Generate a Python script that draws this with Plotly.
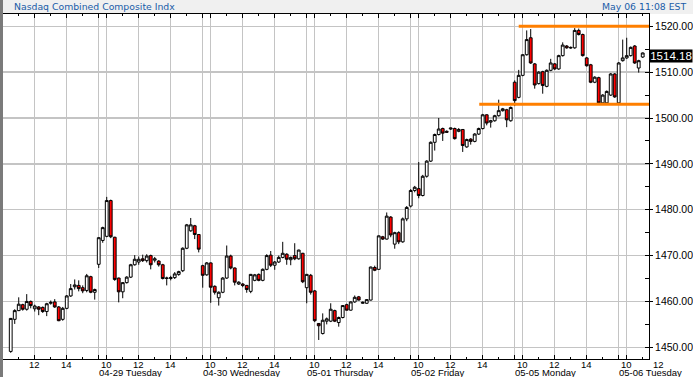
import plotly.graph_objects as go

# ---------------- data (15-minute bars, open/high/low/close) ----------------
day_labels = ["04-28 Monday", "04-29 Tuesday", "04-30 Wednesday", "05-01 Thursday",
              "05-02 Friday", "05-05 Monday", "05-06 Tuesday"]
first_bar = ["10:30", "09:30", "09:30", "09:30", "09:30", "09:30", "09:30"]

bars_0428 = [
    (1449.1, 1456.4, 1448.8, 1456.3), (1456.1, 1458.3, 1455.1, 1458.0), (1458.0, 1460.9, 1457.9, 1459.4),
    (1459.3, 1459.5, 1458.0, 1458.3), (1458.3, 1461.6, 1458.0, 1460.0), (1460.0, 1460.2, 1458.5, 1459.1),
    (1458.4, 1459.3, 1457.8, 1459.0), (1458.8, 1459.0, 1457.0, 1458.3), (1458.7, 1458.9, 1457.5, 1457.8),
    (1457.8, 1459.7, 1456.8, 1459.5), (1459.6, 1460.2, 1459.3, 1459.8), (1459.9, 1460.5, 1458.6, 1458.8),
    (1458.8, 1459.0, 1455.7, 1455.8), (1456.1, 1458.8, 1455.8, 1458.5), (1458.5, 1461.4, 1458.3, 1461.2),
    (1461.2, 1463.8, 1461.0, 1462.8), (1463.2, 1464.8, 1462.6, 1463.6), (1463.5, 1464.6, 1462.2, 1462.8),
    (1463.0, 1463.5, 1461.8, 1462.3), (1462.4, 1466.0, 1462.0, 1465.6), (1465.4, 1465.6, 1461.8, 1462.0),
    (1462.0, 1462.8, 1460.4, 1462.6),
]
bars_0429 = [
    (1468.1, 1474.0, 1467.3, 1473.9), (1473.3, 1476.3, 1472.8, 1476.1), (1474.2, 1482.8, 1474.0, 1482.0),
    (1482.0, 1482.2, 1473.8, 1474.1), (1474.0, 1474.1, 1464.5, 1464.8), (1465.1, 1465.2, 1459.8, 1462.1),
    (1462.1, 1464.2, 1460.7, 1464.1), (1464.1, 1465.5, 1463.9, 1465.3), (1465.3, 1468.2, 1465.1, 1468.0),
    (1468.0, 1470.1, 1467.8, 1469.2), (1468.6, 1469.8, 1468.0, 1469.2), (1469.3, 1470.2, 1468.6, 1468.9),
    (1468.9, 1470.3, 1468.5, 1469.9), (1470.0, 1470.2, 1467.0, 1468.0), (1469.0, 1469.7, 1468.5, 1469.3),
    (1468.8, 1469.0, 1467.6, 1468.0), (1468.0, 1468.2, 1464.8, 1465.0), (1465.0, 1465.4, 1463.5, 1465.1),
    (1465.0, 1465.6, 1464.6, 1465.2), (1465.2, 1466.4, 1464.9, 1466.0), (1465.9, 1466.7, 1465.6, 1466.5),
    (1466.7, 1471.8, 1466.4, 1471.6), (1471.6, 1476.9, 1471.4, 1476.7), (1475.4, 1478.2, 1475.2, 1476.7),
    (1476.5, 1476.7, 1473.6, 1474.6), (1474.6, 1474.7, 1470.7, 1471.4),
]
bars_0430 = [
    (1467.8, 1468.0, 1463.0, 1465.7), (1465.8, 1468.6, 1465.6, 1468.4), (1468.4, 1468.5, 1459.7, 1463.1),
    (1463.3, 1463.5, 1461.5, 1462.0), (1460.8, 1462.2, 1459.1, 1462.0), (1462.0, 1465.3, 1461.8, 1465.1),
    (1465.1, 1472.2, 1464.9, 1469.9), (1469.9, 1470.2, 1467.0, 1467.3), (1467.3, 1467.4, 1463.5, 1464.2),
    (1463.8, 1464.4, 1463.6, 1464.2), (1463.8, 1464.0, 1463.1, 1463.5), (1463.5, 1463.6, 1461.9, 1462.6),
    (1462.2, 1466.0, 1461.8, 1465.9), (1464.6, 1466.0, 1464.4, 1465.8), (1465.9, 1466.1, 1464.4, 1464.6),
    (1464.6, 1467.2, 1464.4, 1467.0), (1467.0, 1470.3, 1466.8, 1470.0), (1470.1, 1471.0, 1467.5, 1467.9),
    (1467.9, 1468.8, 1466.9, 1468.6), (1468.6, 1470.0, 1468.4, 1469.6), (1469.6, 1473.0, 1469.4, 1470.5),
    (1470.3, 1470.5, 1468.0, 1469.2), (1469.1, 1469.8, 1467.9, 1469.6), (1470.0, 1472.7, 1469.0, 1469.3),
    (1469.3, 1471.3, 1469.1, 1471.2), (1470.5, 1470.6, 1464.0, 1464.3),
]
bars_0501 = [
    (1463.0, 1466.0, 1459.6, 1465.9), (1465.7, 1466.0, 1461.5, 1462.0), (1462.3, 1462.5, 1455.5, 1455.8),
    (1455.2, 1455.3, 1451.6, 1454.7), (1453.0, 1457.4, 1452.8, 1455.9), (1455.7, 1456.5, 1455.0, 1456.2),
    (1455.7, 1459.6, 1455.5, 1458.3), (1458.0, 1458.2, 1455.5, 1455.7), (1455.4, 1456.7, 1454.5, 1456.5),
    (1456.5, 1459.2, 1456.3, 1459.1), (1459.3, 1459.5, 1458.0, 1458.1), (1458.1, 1460.0, 1458.0, 1459.9),
    (1459.9, 1461.3, 1459.7, 1460.9), (1461.0, 1461.2, 1460.2, 1460.3), (1459.6, 1460.0, 1459.5, 1459.8),
    (1459.6, 1460.5, 1459.5, 1460.4), (1460.3, 1467.6, 1460.2, 1467.5), (1467.4, 1467.8, 1466.6, 1466.8),
    (1467.0, 1474.4, 1466.9, 1474.3), (1474.1, 1474.3, 1473.4, 1473.6), (1473.6, 1479.4, 1473.5, 1478.6),
    (1478.4, 1478.6, 1474.0, 1474.5), (1472.5, 1475.2, 1471.5, 1475.0), (1475.0, 1475.3, 1472.5, 1473.0),
    (1473.0, 1478.3, 1472.8, 1478.0), (1478.0, 1480.8, 1477.5, 1480.5),
]
bars_0502 = [
    (1480.8, 1484.5, 1480.5, 1484.2), (1484.2, 1485.2, 1483.8, 1484.9), (1484.6, 1490.4, 1482.5, 1483.1),
    (1483.1, 1487.6, 1482.9, 1487.3), (1487.3, 1490.8, 1487.0, 1490.6), (1490.6, 1494.9, 1490.4, 1494.7),
    (1494.7, 1496.6, 1492.9, 1496.4), (1496.4, 1500.0, 1496.2, 1497.6), (1497.7, 1497.9, 1495.0, 1496.7),
    (1497.1, 1497.3, 1496.8, 1496.9), (1497.6, 1497.9, 1497.4, 1497.8), (1497.7, 1497.9, 1495.3, 1495.5),
    (1497.1, 1497.8, 1496.9, 1497.5), (1497.5, 1497.6, 1492.6, 1494.0), (1493.7, 1495.5, 1493.5, 1495.3),
    (1495.4, 1495.6, 1494.2, 1494.9), (1494.9, 1496.7, 1494.7, 1496.5), (1496.5, 1497.9, 1496.3, 1497.7),
    (1497.7, 1500.9, 1497.5, 1500.7), (1500.7, 1500.8, 1498.4, 1498.9), (1499.1, 1499.6, 1497.9, 1499.4),
    (1499.4, 1500.7, 1499.2, 1500.5), (1500.5, 1504.0, 1500.3, 1501.6), (1501.6, 1502.2, 1501.4, 1502.0),
    (1501.8, 1502.0, 1498.0, 1499.6), (1499.4, 1502.5, 1499.2, 1502.3),
]
bars_0505 = [
    (1507.8, 1508.2, 1502.6, 1503.8), (1504.5, 1510.5, 1504.3, 1509.3), (1509.3, 1513.9, 1509.1, 1513.8),
    (1513.8, 1519.1, 1513.6, 1517.1), (1517.5, 1519.4, 1511.8, 1512.0), (1511.8, 1512.0, 1506.4, 1507.2),
    (1507.5, 1510.2, 1507.3, 1510.0), (1510.1, 1510.3, 1505.3, 1507.1), (1506.9, 1510.6, 1506.7, 1510.4),
    (1510.4, 1512.9, 1510.2, 1512.0), (1511.8, 1512.0, 1510.5, 1510.7), (1510.7, 1513.8, 1510.5, 1513.6),
    (1513.6, 1516.5, 1513.4, 1515.9), (1515.7, 1515.9, 1515.1, 1515.3), (1515.4, 1515.6, 1515.1, 1515.3),
    (1515.3, 1519.6, 1515.1, 1519.1), (1519.1, 1519.5, 1518.0, 1518.2), (1518.2, 1518.4, 1513.4, 1513.6),
    (1513.1, 1513.3, 1511.2, 1511.4), (1511.6, 1511.8, 1507.6, 1507.8), (1507.8, 1509.1, 1507.6, 1508.9),
    (1508.8, 1509.0, 1503.1, 1503.3), (1503.3, 1505.2, 1503.1, 1505.0), (1503.3, 1506.0, 1503.1, 1505.8),
    (1505.0, 1509.8, 1504.8, 1509.6), (1509.6, 1509.8, 1504.4, 1504.6),
]
bars_0506 = [
    (1503.3, 1512.2, 1503.1, 1512.0), (1512.5, 1517.1, 1512.3, 1513.1), (1513.1, 1517.5, 1512.9, 1513.6),
    (1513.6, 1515.6, 1513.4, 1515.4), (1515.7, 1515.9, 1511.8, 1512.0), (1510.9, 1512.7, 1509.9, 1512.5),
    (1513.3, 1514.3, 1513.1, 1514.18),
]
all_days = [bars_0428, bars_0429, bars_0430, bars_0501, bars_0502, bars_0505, bars_0506]

last_price = 1514.18
support_level, support_from = 1503.0, (4, "13:47")
resist_level, resist_from = 1520.0, (5, "09:45")
y_ticks = [1450, 1460, 1470, 1480, 1490, 1500, 1510, 1520]
hour_labels = ["10", "12", "14"]

# ---------------- session-time scale (trading minutes since first open) ----------------
SESSION = 390  # 09:30 - 16:00


def tpos(day, hhmm):
    h, m = map(int, hhmm.split(":"))
    return day * SESSION + (h * 60 + m) - (9 * 60 + 30)


xs, o, h, l, c = [], [], [], [], []
for d, bars in enumerate(all_days):
    start = tpos(d, first_bar[d])
    for i, (bo, bh, bl, bc) in enumerate(bars):
        xs.append(start + 15 * i)
        o.append(bo); h.append(bh); l.append(bl); c.append(bc)

X0, X1 = 31.0, 2453.6
Y0, Y1 = 1447.45, 1522.68
W, H = 693, 377
ML, MR, MT, MB = 3, 44, 14, 18
PW, PH = W - ML - MR, H - MT - MB


def xfrac(p):
    return (p - X0) / (X1 - X0)


grid_x, minor_x = [], []
for d in range(len(all_days)):
    for hh in ["09:30", "10:00", "12:00", "14:00"]:
        grid_x.append(tpos(d, hh))
    for hh in ["11:00", "13:00", "15:00"]:
        minor_x.append(tpos(d, hh))
grid_x = [g for g in grid_x if X0 <= g <= X1]
minor_x = [g for g in minor_x if X0 <= g <= X1]

fig = go.Figure(go.Candlestick(
    x=xs, open=o, high=h, low=l, close=c,
    increasing=dict(fillcolor="#ffffff", line=dict(color="#000000", width=1)),
    decreasing=dict(fillcolor="#ff0000", line=dict(color="#000000", width=1)),
    whiskerwidth=0, showlegend=False, hoverinfo="skip",
))

GRID = "#c4c4c4"
fig.update_layout(
    width=W, height=H, margin=dict(l=ML, r=MR, t=MT, b=MB, pad=0),
    paper_bgcolor="#ffffff", plot_bgcolor="#ffffff",
    boxgap=0.0, showlegend=False, hovermode=False,
    xaxis=dict(range=[X0, X1], rangeslider=dict(visible=False), tickmode="array",
               tickvals=grid_x, showticklabels=False, ticks="inside", ticklen=4,
               tickcolor="#000000", showline=True, linecolor="#000000", linewidth=1,
               mirror="ticks", showgrid=True, gridcolor=GRID, gridwidth=1.5, zeroline=False,
               minor=dict(tickvals=minor_x, ticks="inside", ticklen=2, tickcolor="#000000",
                          showgrid=False)),
    yaxis=dict(range=[Y0, Y1], side="right", tickmode="array", tickvals=y_ticks,
               ticktext=[f"{v:.2f}" for v in y_ticks], ticks="outside", ticklen=3,
               tickcolor="#000000", showline=True, linecolor="#000000", linewidth=1,
               mirror=True, showgrid=True, gridcolor=GRID, gridwidth=1.5, zeroline=False,
               automargin=False,
               tickfont=dict(family="Liberation Sans, Arial", size=10.5, color="#000000"),
               minor=dict(dtick=5, tick0=1450, ticks="inside", ticklen=4, tickcolor="#000000",
                          showgrid=False)),
)

shapes = [
    # title bar
    dict(type="rect", xref="paper", yref="paper", x0=-ML / PW, x1=1 + MR / PW, y0=1, y1=1 + MT / PH,
         fillcolor="#f0f0f0", line=dict(width=0), layer="below"),
    # left frame bar
    dict(type="rect", xref="paper", yref="paper", x0=-ML / PW, x1=0, y0=-MB / PH, y1=1 + MT / PH,
         fillcolor="#7a7a7a", line=dict(width=0)),
    dict(type="line", xref="x", yref="y", x0=tpos(*support_from), x1=X1, y0=support_level,
         y1=support_level, line=dict(color="#ff7f00", width=3)),
    dict(type="line", xref="x", yref="y", x0=tpos(*resist_from), x1=X1, y0=resist_level,
         y1=resist_level, line=dict(color="#ff7f00", width=3)),
]
fig.update_layout(shapes=shapes)

TF = dict(family="Liberation Sans, Arial", size=9.5, color="#000000")
ann = []
for d in range(len(all_days)):
    for lab in hour_labels:
        p = tpos(d, lab + ":00")
        if p < X0 or p > X1 + 60:
            continue
        ann.append(dict(xref="paper", yref="paper", x=xfrac(p), y=-(364.5 - (H - MB)) / PH,
                        text=lab, showarrow=False, xanchor="center", yanchor="middle",
                        borderpad=0, font=TF))
    if d > 0:
        ann.append(dict(xref="paper", yref="paper", x=xfrac(tpos(d, "09:30")), y=-(372.5 - (H - MB)) / PH,
                        text=day_labels[d], showarrow=False, xanchor="left", yanchor="middle",
                        borderpad=0, xshift=-1, font=TF))

title_font = dict(family="DejaVu Sans, Verdana", size=9.3, color="#1a5ca8")
ann.append(dict(xref="paper", yref="paper", x=(11.5 - ML) / PW, y=1 + (MT - 6.5) / PH,
                text="Nasdaq Combined Composite Indx", showarrow=False, xanchor="left",
                yanchor="middle", font=title_font))
ann.append(dict(xref="paper", yref="paper", x=(688 - ML) / PW, y=1 + (MT - 6.5) / PH,
                text="May 06 11:08 EST", showarrow=False, xanchor="right",
                yanchor="middle", font=title_font))
ann.append(dict(xref="paper", yref="y", x=1, y=last_price, yshift=-3, text=f"{last_price:.2f}",
                showarrow=False, xanchor="left", yanchor="middle", bgcolor="#000000",
                width=42, height=12, borderpad=0,
                font=dict(family="Liberation Sans, Arial", size=11.5, color="#ffffff")))
fig.update_layout(annotations=ann)

fig.write_html("out.html", config={"displayModeBar": False, "staticPlot": True},
               post_script="document.body.style.margin='0px';")
